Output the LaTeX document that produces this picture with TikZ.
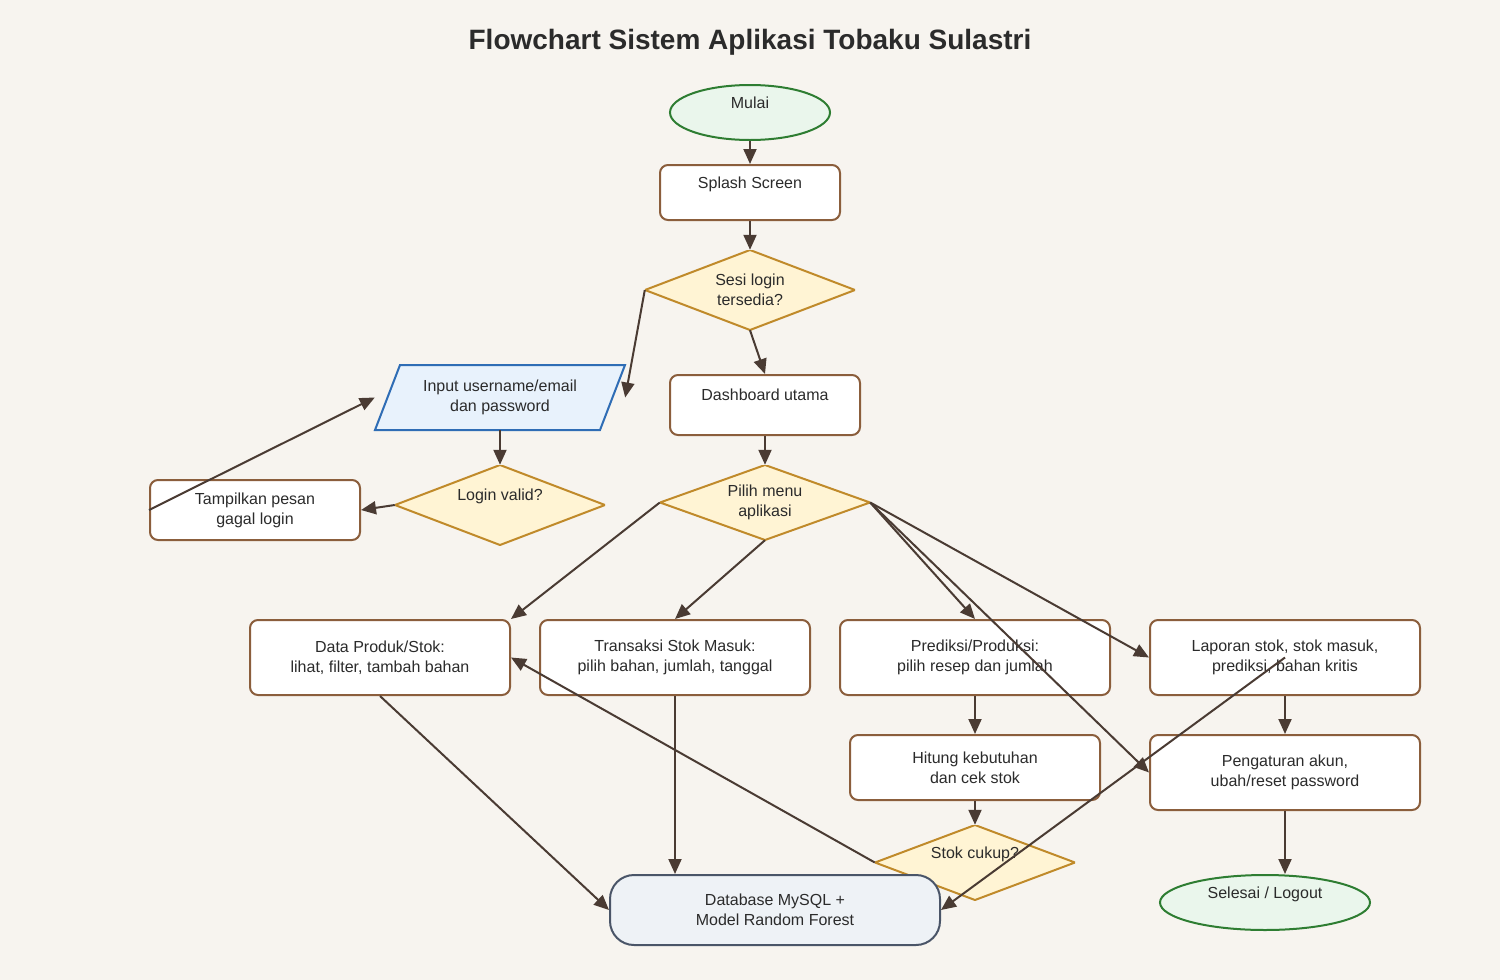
\documentclass[tikz,border=0pt]{standalone}
\usepackage{fontspec}
\setmainfont{Liberation Sans}
\usetikzlibrary{arrows.meta,shapes.geometric,calc}
\definecolor{bgc}{HTML}{F7F4EF}
\definecolor{txt}{HTML}{2B2B2B}
\definecolor{arrc}{HTML}{4A3B33}
\definecolor{boxb}{HTML}{8B5E3C}
\definecolor{decf}{HTML}{FFF4D4}
\definecolor{decb}{HTML}{C08A2A}
\definecolor{endf}{HTML}{EAF6EC}
\definecolor{endb}{HTML}{2E7D32}
\definecolor{inf}{HTML}{E8F2FC}
\definecolor{inb}{HTML}{2F6DB5}
\definecolor{dbf}{HTML}{EEF2F6}
\definecolor{dbb}{HTML}{4A5568}
\begin{document}
\begin{tikzpicture}[x=1pt,y=-1pt,
  every node/.style={font=\fontsize{16}{20}\selectfont, text=txt, align=center, inner sep=0pt},
  procbox/.style={rectangle, rounded corners=8pt, draw=boxb, line width=2pt, fill=white},
  decision/.style={rectangle, minimum width=210, minimum height=80,
    path picture={\filldraw[fill=decf, draw=decb, line width=2pt, line join=miter]
      (path picture bounding box.west) -- (path picture bounding box.north) --
      (path picture bounding box.east) -- (path picture bounding box.south) -- cycle;}},
  terminal/.style={ellipse, draw=endb, line width=2pt, fill=endf},
  dbbox/.style={rectangle, rounded corners=24pt, draw=dbb, line width=2pt, fill=dbf},
  arr/.style={draw=arrc, line width=2pt, -{Triangle[length=15pt,width=13pt]}},
]
\fill[bgc] (0,0) rectangle (1500,980);
\node[font=\fontsize{28}{32}\selectfont\bfseries, text=txt] (title) at (750,42) {Flowchart Sistem Aplikasi Tobaku Sulastri};

\node[terminal, minimum width=160, minimum height=55] (mulai) at (750,112.5) {Mulai\\\mbox{}};
\node[procbox, minimum width=180, minimum height=55] (splash) at (750,192.5) {Splash Screen\\\mbox{}};
\node[decision] (sesi) at (750,290) {Sesi login\\tersedia?};

% input parallelogram
\coordinate (inc) at (500,397.5);
\fill[inf, draw=inb, line width=2pt] ($(inc)+(-125,32.5)$) -- ($(inc)+(-100,-32.5)$) -- ($(inc)+(125,-32.5)$) -- ($(inc)+(100,32.5)$) -- cycle;
\node[minimum width=250, minimum height=65] (input) at (inc) {Input username/email\\dan password};

\node[procbox, minimum width=190, minimum height=60] (dash) at (765,405) {Dashboard utama\\\mbox{}};
\node[decision] (login) at (500,505) {Login valid?\\\mbox{}};
\node[procbox, minimum width=210, minimum height=60] (tamp) at (255,510) {Tampilkan pesan\\gagal login};
\node[decision, minimum height=75] (pilih) at (765,502.5) {Pilih menu\\aplikasi};

\node[procbox, minimum width=260, minimum height=75] (data) at (380,657.5) {Data Produk/Stok:\\lihat, filter, tambah bahan};
\node[procbox, minimum width=270, minimum height=75] (trans) at (675,657.5) {Transaksi Stok Masuk:\\pilih bahan, jumlah, tanggal};
\node[procbox, minimum width=270, minimum height=75] (pred) at (975,657.5) {Prediksi/Produksi:\\pilih resep dan jumlah};
\node[procbox, minimum width=270, minimum height=75] (lap) at (1285,657.5) {Laporan stok, stok masuk,\\prediksi, bahan kritis};

\node[procbox, minimum width=250, minimum height=65] (hitung) at (975,767.5) {Hitung kebutuhan\\dan cek stok};
\node[procbox, minimum width=270, minimum height=75] (peng) at (1285,772.5) {Pengaturan akun,\\ubah/reset password};

\node[decision, minimum width=200, minimum height=75] (stok) at (975,862.5) {Stok cukup?\\\mbox{}};
\node[dbbox, minimum width=330, minimum height=70] (db) at (775,910) {Database MySQL +\\Model Random Forest};
\node[terminal, minimum width=210, minimum height=55] (selesai) at (1265,902.5) {Selesai / Logout\\\mbox{}};

% connectors
\draw[arr] (mulai.south) -- (splash.north);
\draw[arr] (splash.south) -- (sesi.north);
\draw[arr] (sesi.west) -- (input.east);
\draw[arr] (sesi.south) -- (dash.north);
\draw[arr] (input.south) -- (login.north);
\draw[arr] (login.west) -- (tamp.east);
\draw[arr] (tamp.west) -- (input.west);
\draw[arr] (dash.south) -- (pilih.north);
\draw[arr] (pilih.west) -- (data.north east);
\draw[arr] (pilih.south) -- (trans.north);
\draw[arr] (pilih.east) -- (pred.north);
\draw[arr] (pilih.east) -- (lap.west);
\draw[arr] (pilih.east) -- (peng.west);
\draw[arr] (pred.south) -- (hitung.north);
\draw[arr] (hitung.south) -- (stok.north);
\draw[arr] (lap.south) -- (peng.north);
\draw[arr] (peng.south) -- (peng.south |- selesai.north);
\draw[arr] (data.south) -- (db.west);
\draw[arr] (trans.south) -- (trans.south |- db.north);
\draw[arr] (stok.west) -- (data.east);
\draw[arr] (lap.center) -- (db.east);
\end{tikzpicture}
\end{document}
